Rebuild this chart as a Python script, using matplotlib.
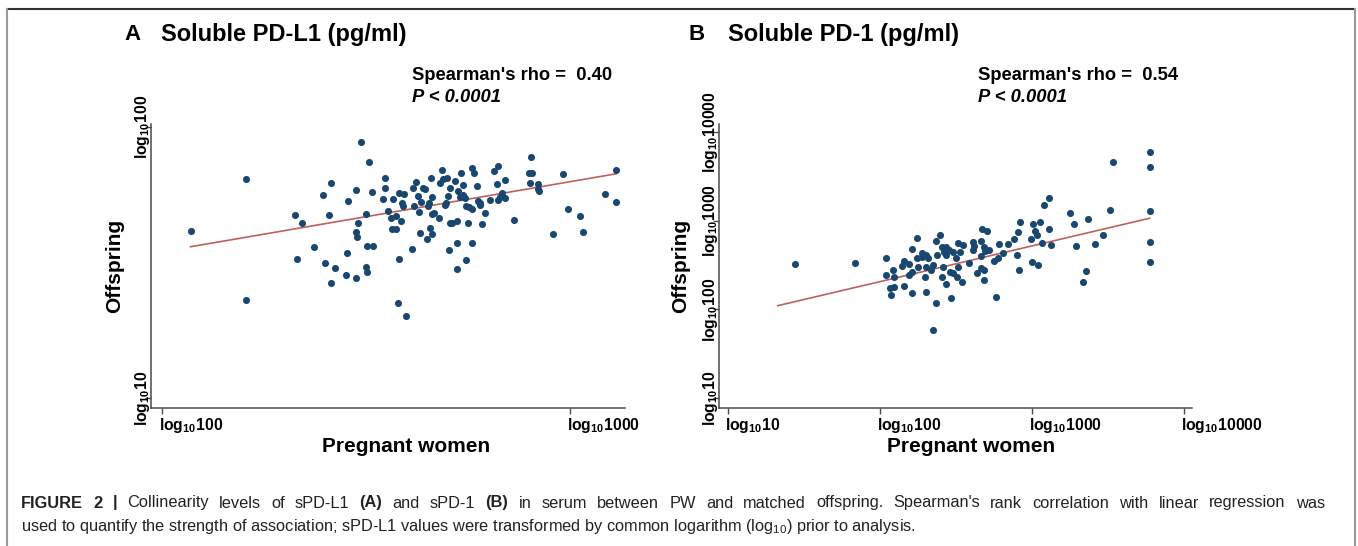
import numpy as np
import matplotlib
matplotlib.use('Agg')
import matplotlib.pyplot as plt
from matplotlib import transforms
from matplotlib.lines import Line2D

plt.rcParams['font.family'] = ['Liberation Sans', 'DejaVu Sans']
plt.rcParams['mathtext.fontset'] = 'custom'
plt.rcParams['mathtext.rm'] = 'Liberation Sans'
plt.rcParams['mathtext.bf'] = 'Liberation Sans:bold'
plt.rcParams['mathtext.it'] = 'Liberation Sans:italic'

# log10 values: pregnant women (x) vs offspring (y)
a_pw = [2.070, 2.206, 2.205, 2.488, 2.507, 2.325, 2.344, 2.394, 2.415, 2.410,
        2.457, 2.475, 2.516, 2.547, 2.547, 2.542, 2.566, 2.501, 2.481, 2.476,
        2.477, 2.502, 2.517, 2.373, 2.330, 2.399, 2.424, 2.415, 2.453, 2.450,
        2.475, 2.501, 2.503, 2.581, 2.578, 2.598, 2.554, 2.562, 2.573, 2.586,
        2.565, 2.574, 2.582, 2.592, 2.588, 2.590, 2.614, 2.632, 2.617, 2.630,
        2.627, 2.636, 2.616, 2.623, 2.640, 2.645, 2.659, 2.663, 2.655, 2.652,
        2.662, 2.667, 2.679, 2.657, 2.662, 2.650, 2.686, 2.690, 2.682, 2.699,
        2.705, 2.702, 2.696, 2.694, 2.706, 2.712, 2.722, 2.703, 2.723, 2.724,
        2.746, 2.759, 2.751, 2.718, 2.734, 2.737, 2.726, 2.737, 2.730, 2.742,
        2.744, 2.752, 2.760, 2.760, 2.764, 2.773, 2.774, 2.780, 2.779, 2.793,
        2.785, 2.805, 2.815, 2.824, 2.821, 2.823, 2.828, 2.833, 2.841, 2.842,
        2.864, 2.900, 2.907, 2.904, 2.901, 2.922, 2.921, 2.925, 2.958, 2.984,
        2.996, 3.024, 3.033, 3.086, 3.113, 3.113]
a_off = [1.616, 1.807, 1.362, 1.943, 1.871, 1.674, 1.647, 1.748, 1.795, 1.677,
         1.727, 1.768, 1.760, 1.812, 1.774, 1.734, 1.733, 1.679, 1.647, 1.614,
         1.593, 1.560, 1.560, 1.556, 1.514, 1.499, 1.481, 1.426, 1.536, 1.454,
         1.444, 1.483, 1.465, 1.513, 1.352, 1.303, 1.691, 1.663, 1.672, 1.653,
         1.624, 1.624, 1.755, 1.752, 1.721, 1.708, 1.550, 1.610, 1.708, 1.686,
         1.744, 1.722, 1.776, 1.797, 1.776, 1.772, 1.811, 1.740, 1.721, 1.708,
         1.679, 1.681, 1.664, 1.629, 1.605, 1.585, 1.841, 1.807, 1.792, 1.812,
         1.776, 1.745, 1.721, 1.713, 1.645, 1.647, 1.653, 1.546, 1.573, 1.476,
         1.509, 1.573, 1.647, 1.802, 1.829, 1.785, 1.764, 1.749, 1.740, 1.737,
         1.708, 1.704, 1.696, 1.847, 1.829, 1.782, 1.728, 1.721, 1.712, 1.684,
         1.643, 1.731, 1.839, 1.856, 1.788, 1.731, 1.740, 1.755, 1.737, 1.804,
         1.657, 1.831, 1.829, 1.889, 1.795, 1.788, 1.770, 1.765, 1.604, 1.825,
         1.697, 1.670, 1.611, 1.752, 1.841, 1.722]
# fitted line (intercept, slope) and its x range
a_fit = (1.024, 0.258)
a_fit_range = (2.070, 3.113)

b_pw = [1.443, 1.833, 2.037, 2.041, 2.085, 2.089, 2.065, 2.089, 2.072, 2.155,
        2.155, 2.146, 2.192, 2.192, 2.210, 2.210, 2.212, 2.245, 2.240, 2.275,
        2.278, 2.300, 2.317, 2.249, 2.297, 2.300, 2.335, 2.346, 2.365, 2.350,
        2.374, 2.370, 2.396, 2.407, 2.420, 2.433, 2.416, 2.405, 2.435, 2.464,
        2.453, 2.481, 2.497, 2.510, 2.477, 2.514, 2.547, 2.525, 2.538, 2.508,
        2.582, 2.613, 2.620, 2.663, 2.672, 2.701, 2.683, 2.692, 2.661, 2.714,
        2.639, 2.661, 2.685, 2.685, 2.764, 2.751, 2.777, 2.784, 2.810, 2.839,
        2.883, 2.898, 2.904, 2.920, 2.913, 2.990, 2.997, 3.003, 3.016, 3.032,
        3.040, 3.051, 3.064, 3.080, 3.113, 3.110, 3.121, 3.249, 3.277, 3.288,
        3.365, 3.354, 3.336, 3.413, 3.463, 3.514, 3.533, 3.772, 3.772, 3.772,
        3.772, 3.772, 2.433, 2.613, 2.305, 2.460]
b_off = [2.518, 2.522, 2.582, 2.386, 2.446, 2.363, 2.239, 2.250, 2.160, 2.548,
         2.269, 2.488, 2.514, 2.394, 2.687, 2.186, 2.424, 2.808, 2.582, 2.642,
         2.589, 2.616, 2.578, 2.484, 2.367, 2.198, 2.450, 2.499, 2.073, 1.768,
         2.616, 2.778, 2.838, 2.710, 2.653, 2.620, 2.484, 2.371, 2.292, 2.126,
         2.672, 2.653, 2.582, 2.484, 2.409, 2.751, 2.725, 2.653, 2.315, 2.371,
         2.522, 2.766, 2.721, 2.774, 2.906, 2.891, 2.710, 2.657, 2.605, 2.672,
         2.416, 2.465, 2.446, 2.333, 2.137, 2.552, 2.578, 2.736, 2.635, 2.744,
         2.800, 2.620, 2.876, 2.992, 2.446, 2.793, 2.537, 2.966, 2.891, 2.842,
         2.507, 2.985, 2.755, 3.185, 3.256, 2.906, 2.733, 3.087, 2.962, 2.721,
         3.023, 2.435, 2.315, 2.740, 2.846, 3.121, 3.663, 3.776, 3.606, 3.117,
         2.766, 2.533, 2.710, 2.672, 2.484, 2.427]
b_fit = (1.507, 0.404)
b_fit_range = (1.327, 3.772)

a_xticks = [2, 3]
a_yticks = [1, 2]
b_xticks = [1, 2, 3, 4]
b_yticks = [1, 2, 3, 4]

DOT = '#1a476f'
FIT = '#c0605c'
AXC = '#4a4a4a'
CAP = '#222222'

W, H = 1358, 546
fig = plt.figure(figsize=(W / 100, H / 100), dpi=100)


def fx(x):
    return x / W


def fy(y):
    return 1 - y / H


def log_label(t):
    return r'log$_{\mathdefault{10}}$%d' % 10 ** t


def draw_panel(rect, pw, off, fit, fit_range, xticks, yticks, xlim, ylim):
    ax = fig.add_axes(rect)
    ax.scatter(pw, off, s=26, color=DOT, linewidths=0, zorder=3)
    xs = np.array(fit_range)
    ax.plot(xs, fit[0] + fit[1] * xs, color=FIT, lw=1.2, zorder=2)

    ax.set_xlim(xlim)
    ax.set_ylim(ylim)
    for side in ['top', 'right']:
        ax.spines[side].set_visible(False)
    for side in ['left', 'bottom']:
        ax.spines[side].set_color(AXC)
        ax.spines[side].set_linewidth(1.1)
    ax.set_xticks(xticks)
    ax.set_yticks(yticks)
    ax.set_xticklabels([log_label(t) for t in xticks], ha='left',
                       fontsize=11.3, fontweight='bold')
    ax.set_yticklabels([log_label(t) for t in yticks], rotation=90,
                       va='center', fontsize=11.3, fontweight='bold')
    ax.tick_params(direction='out', length=4, width=1, color=AXC)
    ax.tick_params(axis='x', pad=2)
    ax.tick_params(axis='y', pad=1)
    xshift = transforms.ScaledTranslation(-3 / 100, 0, fig.dpi_scale_trans)
    for lab in ax.get_xticklabels():
        lab.set_transform(lab.get_transform() + xshift)
    yshift = transforms.ScaledTranslation(8 / 100, 0, fig.dpi_scale_trans)
    for lab in ax.get_yticklabels():
        lab.set_transform(lab.get_transform() + yshift)
    return ax


bottom, top = 408, 124
draw_panel([fx(151), fy(bottom), fx(625 - 151), (bottom - top) / H],
           a_pw, a_off, a_fit, a_fit_range, a_xticks, a_yticks,
           (1.973, 3.135), (0.963, 2.011))
draw_panel([fx(719), fy(bottom), fx(1192 - 719), (bottom - top) / H],
           b_pw, b_off, b_fit, b_fit_range, b_xticks, b_yticks,
           (0.941, 4.051), (0.887, 4.096))

# panel titles
for letter, lx, title, tx in [('A', 124, 'Soluble PD-L1 (pg/ml)', 161),
                              ('B', 688, 'Soluble PD-1 (pg/ml)', 728)]:
    fig.text(fx(lx), fy(35), letter, fontsize=16, fontweight='bold',
             va='center', ha='left')
    fig.text(fx(tx), fy(35), title, fontsize=17, fontweight='bold',
             va='center', ha='left')

# correlation annotations
for sx, rho in [(412, '0.40'), (978, '0.54')]:
    fig.text(fx(sx), fy(75), "Spearman's rho =  " + rho, fontsize=13.2,
             fontweight='bold', va='center', ha='left')
    fig.text(fx(sx), fy(97), 'P < 0.0001', fontsize=13.2, fontweight='bold',
             style='italic', va='center', ha='left')

# axis titles
for ox, px in [(115, 406), (681, 971)]:
    fig.text(fx(ox), fy(266), 'Offspring', fontsize=15, fontweight='bold',
             rotation=90, va='center', ha='center')
    fig.text(fx(px), fy(447), 'Pregnant women', fontsize=15,
             fontweight='bold', va='center', ha='center')

# caption: first line is justified between the margins
cap1_words = [('FIGURE', True), ('2', True), ('|', True),
              ('Collinearity', False), ('levels', False), ('of', False),
              ('sPD-L1', False), ('(A)', True), ('and', False),
              ('sPD-1', False), ('(B)', True), ('in', False), ('serum', False),
              ('between', False), ('PW', False), ('and', False),
              ('matched', False), ('offspring.', False), ("Spearman's", False),
              ('rank', False), ('correlation', False), ('with', False),
              ('linear', False), ('regression', False), ('was', False)]
cap2 = (r"used to quantify the strength of association; sPD-L1 values were "
        r"transformed by common logarithm (log$_{10}$) prior to analysis.")
cap_size = 11.8

renderer = fig.canvas.get_renderer()
words = [fig.text(0, fy(503), w, fontsize=cap_size, color=CAP,
                  fontweight='bold' if b else 'normal', va='center',
                  ha='left') for w, b in cap1_words]
widths = [t.get_window_extent(renderer).width for t in words]
x0, x1 = 21, 1325
gap = (x1 - x0 - sum(widths)) / (len(words) - 1)
x = x0
for t, w in zip(words, widths):
    t.set_x(fx(x))
    x += w + gap
fig.text(fx(x0), fy(527), cap2, fontsize=cap_size, color=CAP, va='center',
         ha='left')

# frame of the figure box
fig.add_artist(Line2D([fx(7), fx(1355)], [fy(9), fy(9)], color='#333333',
                      lw=1.5, transform=fig.transFigure))
for bx in [7, 1355]:
    fig.add_artist(Line2D([fx(bx), fx(bx)], [fy(9), 0], color='#9a9a9a',
                          lw=1.5, transform=fig.transFigure))

fig.savefig('out.png', dpi=100)
